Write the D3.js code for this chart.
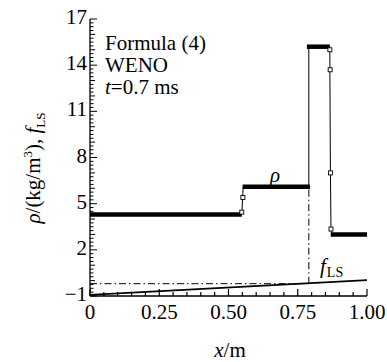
<!DOCTYPE html>
<html><head><meta charset="utf-8">
<script src="https://cdn.jsdelivr.net/npm/d3@7"></script>
<style>
body{margin:0;background:#fff;}
</style></head>
<body><div id="host"></div>
<script>
// ---- data ----
const xTickVals = [0, 0.25, 0.5, 0.75, 1.0];
const xTickLabels = ["0", "0.25", "0.50", "0.75", "1.00"];
const yTickVals = [-1, 2, 5, 8, 11, 14, 17];
const yTickLabels = ["\u22121", "2", "5", "8", "11", "14", "17"];

// density profile (thin connecting line)
const rhoX = [0, 0.548, 0.551, 0.553, 0.790, 0.790, 0.866, 0.866, 0.868, 0.870, 0.873, 1.0];
const rhoY = [4.3, 4.3, 5.4, 6.1, 6.1, 15.2, 15.2, 13.7, 7.0, 3.35, 3.0, 3.0];
// dense-marker plateaus
const plateauX0 = [0, 0.551, 0.783, 0.869];
const plateauX1 = [0.548, 0.794, 0.866, 1.0];
const plateauRho = [4.3, 6.1, 15.2, 3.0];
// isolated markers in the jumps
const markX = [0.548, 0.552, 0.866, 0.867, 0.868, 0.870];
const markY = [4.45, 5.4, 15.0, 13.7, 7.0, 3.35];
// level-set function f_LS
const fX = [0, 1.0];
const fY = [-0.93, 0.03];
// interface reference (dash-dot)
const interfaceX = 0.79;
const interfaceF = -0.2;
const interfaceRho = 6.1;

const FONT = "Liberation Serif";

// ---- build chart (detached), then insert as parsed markup ----
const svg = d3.create("svg").attr("xmlns", "http://www.w3.org/2000/svg").attr("width", 387).attr("height", 362);
const x = d3.scaleLinear().domain([0, 1]).range([90, 367]);
const y = d3.scaleLinear().domain([-1, 17]).range([296, 19]);

function txt(sel, size, italic) {
  const t = sel.append("text").attr("font-family", FONT).attr("font-size", size).attr("fill", "#000");
  if (italic) t.attr("font-style", "italic");
  return t;
}
function ts(sel, size, italic) {
  const t = sel.append("tspan").attr("font-family", FONT).attr("font-size", size);
  if (italic) t.attr("font-style", "italic");
  return t;
}

const g = svg.append("g");
g.append("line").attr("x1", x(0)).attr("x2", x(1)).attr("y1", y(-1)).attr("y2", y(-1)).attr("stroke", "#000").attr("stroke-width", 1.3);
g.append("line").attr("x1", x(0)).attr("x2", x(0)).attr("y1", y(-1)).attr("y2", y(17)).attr("stroke", "#000").attr("stroke-width", 1.3);

d3.range(0, 1.0001, 0.05).forEach(v => {
  const major = xTickVals.some(t => Math.abs(t - v) < 1e-6);
  g.append("line").attr("x1", x(v)).attr("x2", x(v)).attr("y1", y(-1)).attr("y2", y(-1) - (major ? 7 : 4)).attr("stroke", "#000").attr("stroke-width", 1.2);
});
xTickVals.forEach((v, i) => {
  txt(g, 21).attr("x", x(v)).attr("y", 319).attr("text-anchor", "middle").text(xTickLabels[i]);
});
d3.range(-1, 17.0001, 0.25).forEach(v => {
  const major = yTickVals.some(t => Math.abs(t - v) < 1e-6);
  const mid = Math.abs(v - Math.round(v)) < 1e-6;
  g.append("line").attr("x1", x(0)).attr("x2", x(0) + (major ? 7 : (mid ? 5 : 3.5))).attr("y1", y(v)).attr("y2", y(v)).attr("stroke", "#000").attr("stroke-width", 1);
});
yTickVals.forEach((v, i) => {
  txt(g, 21).attr("x", 87).attr("y", y(v) + 5).attr("text-anchor", "end").text(yTickLabels[i]);
});

// axis titles
const xt = txt(svg, 21).attr("x", 230).attr("y", 357).attr("text-anchor", "middle");
ts(xt, 21, true).text("x");
ts(xt, 21).text("/m");

const yt = txt(svg, 21).attr("transform", "translate(40,168) rotate(-90)").attr("text-anchor", "middle");
ts(yt, 21, true).text("\u03C1");
ts(yt, 21).text("/(kg/m");
ts(yt, 13).attr("dy", -8).text("3");
ts(yt, 21).attr("dy", 8).text("), ");
ts(yt, 21, true).text("f");
ts(yt, 13).attr("dy", 5).text("LS");

// dash-dot interface lines
const dd = "7,3,1.5,3";
svg.append("line").attr("x1", x(0)).attr("x2", x(interfaceX)).attr("y1", y(interfaceF)).attr("y2", y(interfaceF)).attr("stroke", "#000").attr("stroke-width", 1).attr("stroke-dasharray", dd);
svg.append("line").attr("x1", x(interfaceX)).attr("x2", x(interfaceX)).attr("y1", y(interfaceF)).attr("y2", y(interfaceRho)).attr("stroke", "#000").attr("stroke-width", 1).attr("stroke-dasharray", dd);

// f_LS line
const line = d3.line().x(d => x(d[0])).y(d => y(d[1]));
svg.append("path").attr("d", line(fX.map((v, i) => [v, fY[i]]))).attr("fill", "none").attr("stroke", "#000").attr("stroke-width", 1.6);

// density
svg.append("path").attr("d", line(rhoX.map((v, i) => [v, rhoY[i]]))).attr("fill", "none").attr("stroke", "#000").attr("stroke-width", 1);
plateauRho.forEach((r, i) => {
  svg.append("line").attr("x1", x(plateauX0[i])).attr("x2", x(plateauX1[i])).attr("y1", y(r)).attr("y2", y(r)).attr("stroke", "#000").attr("stroke-width", 4.5);
});
markX.forEach((v, i) => {
  svg.append("rect").attr("x", x(v) - 2).attr("y", y(markY[i]) - 2).attr("width", 4).attr("height", 4).attr("fill", "#fff").attr("stroke", "#000").attr("stroke-width", 0.9);
});

// annotations
txt(svg, 21, true).attr("x", 270).attr("y", 182).text("\u03C1");
const fl = txt(svg, 21).attr("x", 320).attr("y", 273);
ts(fl, 21, true).text("f");
ts(fl, 14).attr("dy", 4).attr("dx", 1).text("LS");

const info = txt(svg, 21);
ts(info, 21).attr("x", 105).attr("y", 50).text("Formula (4)");
ts(info, 21).attr("x", 105).attr("y", 72).text("WENO");
ts(info, 21, true).attr("x", 105).attr("y", 94).text("t");
ts(info, 21).text("=0.7 ms");

document.getElementById("host").innerHTML = svg.node().outerHTML;
</script></body></html>
